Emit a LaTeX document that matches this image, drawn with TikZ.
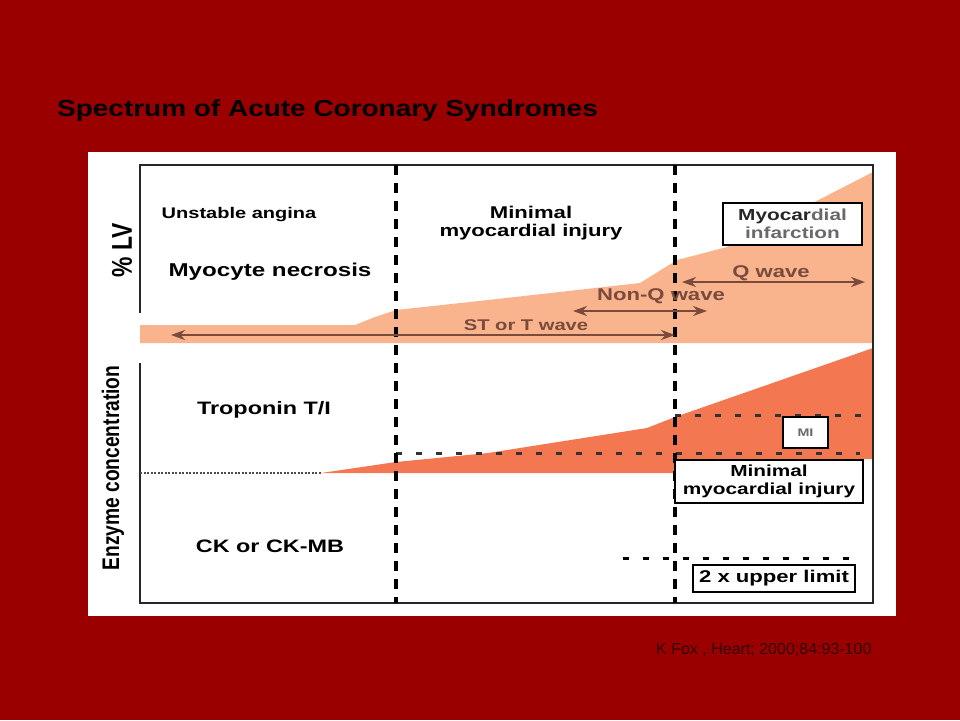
\documentclass[tikz,border=0pt]{standalone}
\usepackage{fontspec}
\setmainfont{Liberation Sans}
\newfontfamily\chartfont[FakeStretch=1.3]{Liberation Sans}
\newfontfamily\titlefont[FakeStretch=1.2]{Liberation Sans}
\newfontfamily\axisfont[FakeStretch=0.8]{Liberation Sans}
\usetikzlibrary{arrows.meta}
\definecolor{slidered}{RGB}{155,0,0}
\definecolor{salmon}{RGB}{249,180,142}
\definecolor{coral}{RGB}{243,120,82}
\definecolor{wavebrown}{RGB}{122,74,60}
\definecolor{fadegray}{RGB}{105,105,105}
\begin{document}
\begin{tikzpicture}[x=1pt,y=-1pt,
  txt/.style={font=\chartfont\bfseries\fontsize{17}{18}\selectfont,align=center,inner sep=0pt},
  axis/.style={font=\axisfont\bfseries\fontsize{#1}{#1}\selectfont,rotate=90,inner sep=0pt},
  tag/.style={draw=black,line width=2.6pt,fill=white,align=center,inner sep=0pt,
    font=\chartfont\bfseries\fontsize{16}{18}\selectfont},
  phase/.style={line width=3.2pt,dash pattern=on 10pt off 8pt},
  level/.style={line width=3pt,black!80,dash pattern=on 6pt off 14pt},
  wave/.style={draw=wavebrown,line width=2.4pt,<->,>={Stealth[length=14pt,width=10pt]}},
  wavetxt/.style={txt,text=wavebrown,font=\chartfont\bfseries\fontsize{#1}{#1}\selectfont}]
% slide and white panel
\fill[slidered] (0,0) rectangle (960,720);
\useasboundingbox (0,0) rectangle (960,720);
\fill[white] (88,152) rectangle (896,616);
\node[anchor=base west,inner sep=0pt,font=\titlefont\bfseries\fontsize{23.3}{26}\selectfont]
  (title) at (57,116.7) {Spectrum of Acute Coronary Syndromes};
\node[anchor=base west,inner sep=0pt,text={rgb,255:red,50;green,0;blue,0},font=\fontsize{16}{18}\selectfont]
  (cite) at (656,654) {K Fox , Heart; 2000;84:93-100};

% %LV and enzyme areas
\fill[salmon] (140,325) -- (355,325) -- (375,317) -- (396,310) -- (488,300)
  -- (640,283) -- (677,260) -- (727,247) -- (873,172) -- (873,343) -- (140,343) -- cycle;
\fill[coral] (321,473) -- (396,462) -- (488,453) -- (647,428) -- (675,417)
  -- (873,348) -- (873,459) -- (675,459) -- (675,473) -- cycle;

% frame
\draw[line width=2.6pt,black!85] (140,313) -- (140,165) -- (873,165) -- (873,603)
  -- (140,603) -- (140,363);

% limits
\draw[line width=1.2pt,black!70,dash pattern=on 2pt off 1.5pt] (140,473) -- (321,473);
\draw[level] (396,453) -- (860,453);
\draw[level] (675,415) -- (873,415);
\draw[level,black] (623,558) -- (860,558);

% phases
\draw[phase] (396,165) -- (396,603);
\draw[phase] (675,165) -- (675,603);

% waves
\coordinate (st-l) at (171,335);
\coordinate (st-r) at (675,335);
\coordinate (nq-l) at (573,311);
\coordinate (nq-r) at (707,311);
\coordinate (q-l) at (682,282);
\coordinate (q-r) at (865,282);
\draw[wave] (st-l) -- (st-r);
\draw[wave] (nq-l) -- (nq-r);
\draw[wave] (q-l) -- (q-r);
\node[wavetxt=15.5,anchor=base] (st) at (526,330) {ST or T wave};
\node[wavetxt=17,anchor=base] (nq) at (661,300) {Non-Q wave};
\node[wavetxt=17,anchor=base] (q) at (771,277) {Q wave};

% labels
\node[axis=28.6] (lv) at (122,250) {\% LV};
\node[axis=24] (enz) at (113,468) {Enzyme concentration};
\node[txt,anchor=base,font=\chartfont\bfseries\fontsize{15.4}{17}\selectfont] (ua) at (239,218.3) {Unstable angina};
\node[txt,anchor=base,font=\chartfont\bfseries\fontsize{18.6}{20}\selectfont] (mn) at (270,276.7) {Myocyte necrosis};
\node[txt] (mmi) at (531,223) {Minimal\\myocardial injury};
\node[txt,anchor=base,font=\chartfont\bfseries\fontsize{18}{20}\selectfont] (trop) at (264,414) {Troponin T/I};
\node[txt,anchor=base,font=\chartfont\bfseries\fontsize{18}{20}\selectfont] (ck) at (270,552.3) {CK or CK-MB};

% boxes
\node[tag,minimum width=139pt,minimum height=42pt,text=fadegray] (infarct) at (792.5,224)
  {\textcolor{black!85}{Myocar}dial\\infarction};
\node[tag,minimum width=45pt,minimum height=31pt,text=fadegray,
  font=\chartfont\bfseries\fontsize{11}{12}\selectfont] (mi) at (805.5,432.5) {MI};
\node[tag,minimum width=188pt,minimum height=43pt] (injury) at (769,481.5) {Minimal\\myocardial injury};
\node[tag,minimum width=162pt,minimum height=27pt,font=\chartfont\bfseries\fontsize{17}{18}\selectfont]
  (upper) at (774,578.5) {2 x upper limit};
\end{tikzpicture}
\end{document}
